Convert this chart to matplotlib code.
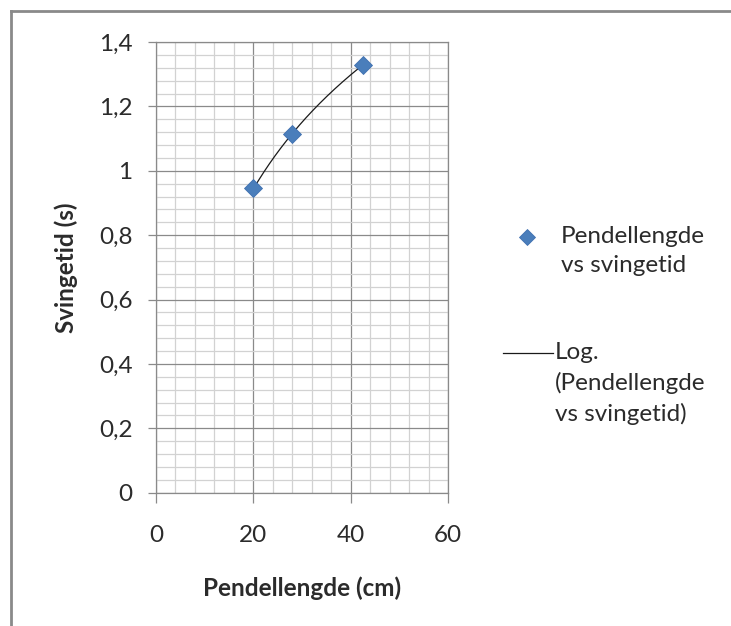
import numpy as np
import matplotlib
matplotlib.use("Agg")
import matplotlib.pyplot as plt
from matplotlib.lines import Line2D
from matplotlib.ticker import MultipleLocator, FuncFormatter

plt.rcParams['font.family'] = ['Lato', 'DejaVu Sans']

# data
lengths = [20, 28, 42.5]          # Pendellengde (cm)
periods = [0.945, 1.113, 1.330]   # Svingetid (s)
xticks = [0, 20, 40, 60]
yticks = [0, 0.2, 0.4, 0.6, 0.8, 1.0, 1.2, 1.4]
series_label = "Pendellengde\nvs svingetid"
trend_label = "Log.\n(Pendellengde\nvs svingetid)"
xlabel = "Pendellengde (cm)"
ylabel = "Svingetid (s)"

W, H = 731, 626
fig = plt.figure(figsize=(W / 100, H / 100), dpi=100)
ax = fig.add_axes([156 / W, 1 - 492.7 / H, (448 - 156) / W, (492.7 - 42) / H])

major_c = '#8a8a8a'
minor_c = '#d2d2d2'
blue = '#4a7ebb'
txt_c = '#2b2b2b'
fs = 17.5

ax.set_xlim(0, 60)
ax.set_ylim(0, 1.4)
ax.xaxis.set_major_locator(MultipleLocator(20))
ax.xaxis.set_minor_locator(MultipleLocator(4))
ax.yaxis.set_major_locator(MultipleLocator(0.2))
ax.yaxis.set_minor_locator(MultipleLocator(0.04))
ax.set_xticks(xticks)
ax.set_yticks(yticks)

def fmt(v, pos):
    s = ('%.1f' % v).rstrip('0').rstrip('.')
    return s.replace('.', ',')
ax.yaxis.set_major_formatter(FuncFormatter(fmt))
ax.xaxis.set_major_formatter(FuncFormatter(lambda v, p: '%d' % v))

ax.grid(which='minor', color=minor_c, linewidth=0.9)
ax.grid(which='major', color=major_c, linewidth=0.9)
ax.set_axisbelow(True)
for s in ax.spines.values():
    s.set_color(major_c)
    s.set_linewidth(0.9)

ax.tick_params(axis='both', which='minor', length=0)
ax.tick_params(axis='y', which='major', length=6, width=0.9, color=major_c,
               pad=11, labelsize=fs, labelcolor=txt_c)
ax.tick_params(axis='x', which='major', length=7, width=0.9, color=major_c,
               pad=16, labelsize=fs, labelcolor=txt_c)

# log trendline fit
a, b = np.polyfit(np.log(lengths), periods, 1)
xs = np.linspace(min(lengths), max(lengths), 200)
ax.plot(xs, a * np.log(xs) + b, color='#1a1a1a', linewidth=0.9, zorder=3)
ax.plot(lengths, periods, linestyle='none', marker='D', markersize=9.5,
        markerfacecolor=blue, markeredgecolor='#4070b0', markeredgewidth=0.6,
        zorder=4)

ax.set_xlabel(xlabel, fontsize=fs, fontweight='bold', color=txt_c, labelpad=22)
ax.set_ylabel(ylabel, fontsize=fs, fontweight='bold', color=txt_c, labelpad=15)

# manual legend
tr = fig.transFigure
def fx(px): return px / W
def fy(py): return 1 - py / H
fig.add_artist(Line2D([fx(527)], [fy(237)], marker='D', markersize=8.5,
                      markerfacecolor=blue, markeredgecolor='#4070b0',
                      markeredgewidth=0.6, transform=tr))
fig.text(fx(561), fy(226), series_label, fontsize=fs, color=txt_c,
         va='top', ha='left', linespacing=1.5)
fig.add_artist(Line2D([fx(503), fx(553)], [fy(353), fy(353)], color='#1a1a1a',
                      linewidth=0.9, transform=tr))
fig.text(fx(555), fy(342), trend_label, fontsize=fs, color=txt_c,
         va='top', ha='left', linespacing=1.5)

# outer border
fig.add_artist(Line2D([fx(11), fx(W + 5)], [fy(11), fy(11)], color='#8a8a8a',
                      linewidth=2, transform=tr))
fig.add_artist(Line2D([fx(11), fx(11)], [fy(11), fy(H + 5)], color='#8a8a8a',
                      linewidth=2, transform=tr))

fig.savefig('out.png', dpi=100)
